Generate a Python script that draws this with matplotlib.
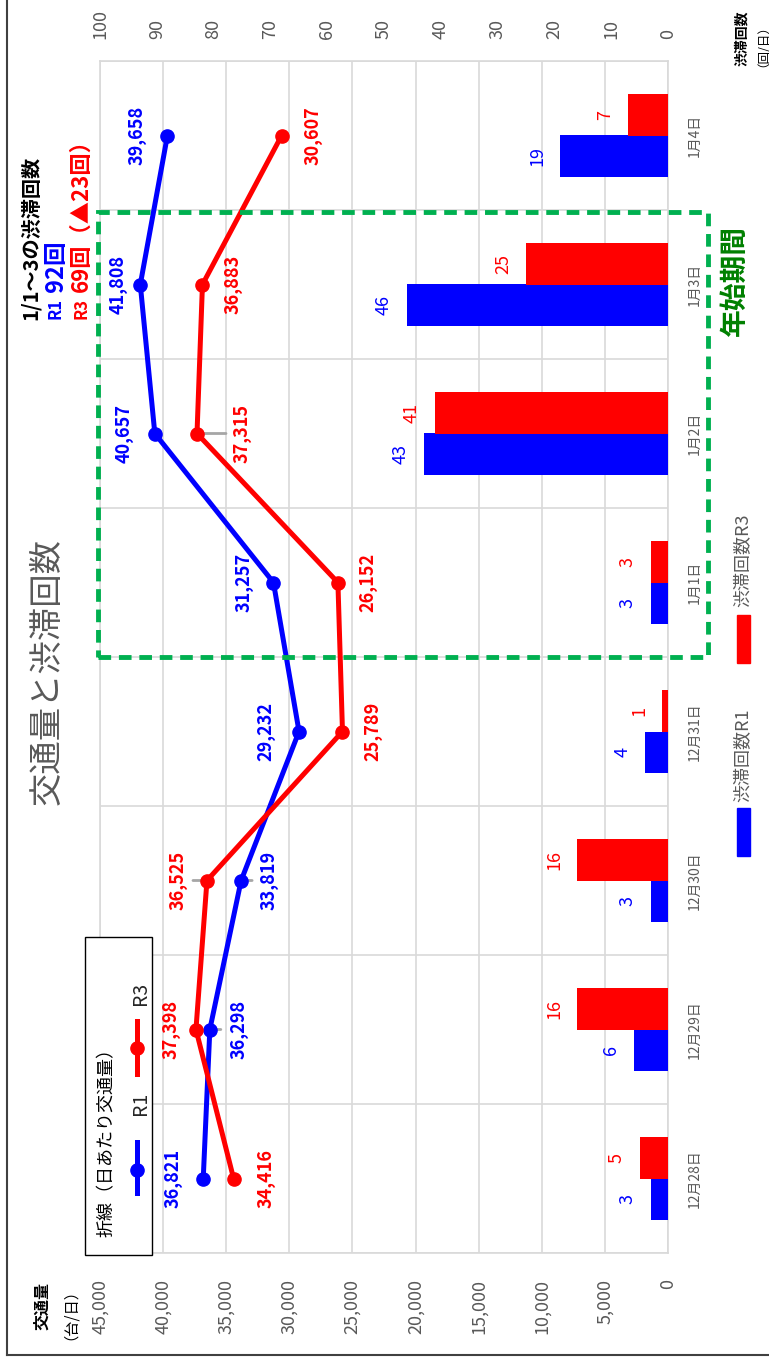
import matplotlib
matplotlib.use("Agg")
import matplotlib.pyplot as plt
import numpy as np
from matplotlib.lines import Line2D
from matplotlib.patches import Rectangle
from matplotlib.ticker import FuncFormatter, MultipleLocator

plt.rcParams["font.family"] = ["Noto Sans CJK JP", "DejaVu Sans"]

# data
dates = ["12月28日", "12月29日", "12月30日", "12月31日", "1月1日", "1月2日", "1月3日", "1月4日"]
traffic_r1 = [36821, 36298, 33819, 29232, 31257, 40657, 41808, 39658]
traffic_r3 = [34416, 37398, 36525, 25789, 26152, 37315, 36883, 30607]
jam_r1 = [3, 6, 3, 4, 3, 43, 46, 19]
jam_r3 = [5, 16, 16, 1, 3, 41, 25, 7]

BLUE = "#0000ff"
RED = "#ff0000"
GREEN = "#00b050"
DKGREEN = "#008000"
GRAY = "#595959"
GRID = "#d9d9d9"

W, H = 769, 1363


def fx(px):
    return px / W


def fy(py):
    return 1 - py / H


fig = plt.figure(figsize=(W / 100, H / 100), dpi=100)
pos = [fx(100), fy(1253), fx(668) - fx(100), fy(61) - fy(1253)]
y = np.arange(len(dates))

# grid / traffic axis (chart is turned 90 degrees: values grow to the left)
axg = fig.add_axes(pos, zorder=0)
axg.set_xlim(45000, 0)
axg.set_ylim(-0.5, len(dates) - 0.5)
axg.xaxis.set_major_locator(MultipleLocator(5000))
axg.xaxis.set_major_formatter(FuncFormatter(lambda v, p: f"{v:,.0f}"))
axg.set_yticks(y)
axg.set_yticklabels(dates)
axg.set_yticks(np.arange(-0.5, len(dates)), minor=True)
axg.yaxis.tick_right()
axg.tick_params(axis="x", labelrotation=90, length=0, pad=19, labelsize=13, labelcolor=GRAY)
axg.tick_params(axis="y", which="both", length=0)
axg.tick_params(axis="y", which="major", labelrotation=90, pad=14, labelsize=10, labelcolor=GRAY)
for lbl in axg.get_yticklabels():
    lbl.set_va("center")
axg.grid(axis="x", color=GRID, lw=1.2)
axg.grid(axis="y", which="minor", color=GRID, lw=1.2)
for s in axg.spines.values():
    s.set_color(GRID)
    s.set_linewidth(1.2)

# bars on the congestion axis
axb = axg.twiny()
axb.set_xlim(100, 0)
axb.xaxis.set_major_locator(MultipleLocator(10))
axb.tick_params(axis="x", labelrotation=90, length=0, pad=16, labelsize=13, labelcolor=GRAY)
for s in axb.spines.values():
    s.set_visible(False)
bar_h = 0.28
b1 = axb.barh(y - bar_h / 2, jam_r1, height=bar_h, color=BLUE)
b3 = axb.barh(y + bar_h / 2, jam_r3, height=bar_h, color=RED)
for bars, vals, c in [(b1, jam_r1, BLUE), (b3, jam_r3, RED)]:
    for rect, v in zip(bars, vals):
        axb.annotate(str(v), xy=(v, rect.get_y() + rect.get_height() / 2),
                     xytext=(-23, 0), textcoords="offset pixels", rotation=90,
                     ha="center", va="center", color=c, fontsize=13)

# lines on top
axl = fig.add_axes(pos, sharex=axg, sharey=axg, zorder=2)
axl.patch.set_visible(False)
axl.axis("off")

leaders = [(traffic_r1, 1, 11), (traffic_r3, 2, -14), (traffic_r1, 2, 11), (traffic_r3, 5, 29)]
for vals, i, d in leaders:
    axl.annotate("", xy=(vals[i], i), xytext=(d, 0), textcoords="offset pixels",
                 arrowprops=dict(arrowstyle="-", color="#a6a6a6", lw=2, shrinkA=0, shrinkB=0),
                 zorder=1)

axl.plot(traffic_r1, y, color=BLUE, lw=3.6, marker="o", ms=9.5, zorder=3)
axl.plot(traffic_r3, y, color=RED, lw=3.6, marker="o", ms=9.5, zorder=3)

r1_off = [-30, 29, 28, -33, -29, -31, -22, -30]
r3_off = [32, -25, -29, 30, 30, 45, 31, 31]
for vals, offs, c in [(traffic_r1, r1_off, BLUE), (traffic_r3, r3_off, RED)]:
    for i, (v, d) in enumerate(zip(vals, offs)):
        axl.annotate(f"{v:,}", xy=(v, i), xytext=(d, 0), textcoords="offset pixels",
                     rotation=90, ha="center", va="center", color=c,
                     fontsize=13, fontweight="bold")

# new-year period box
fig.add_artist(Rectangle((fx(98), fy(657)), fx(708) - fx(98), fy(212) - fy(657),
                         transform=fig.transFigure, fill=False, edgecolor=GREEN,
                         lw=3.5, linestyle=(0, (2.6, 1.6)), zorder=5))
fig.text(fx(735), fy(280), "年始期間", rotation=90, ha="center", va="center",
         fontsize=20, fontweight="bold", color=DKGREEN, zorder=6)

# title and notes
fig.text(fx(47), fy(672), "交通量と渋滞回数", rotation=90, ha="center", va="center",
         fontsize=24, color=GRAY)
fig.text(fx(30), fy(320), "1/1～3の渋滞回数", rotation=90, ha="center", va="bottom",
         fontsize=14.5, fontweight="bold", color="black")
fig.text(fx(56), fy(319), "R1", rotation=90, ha="center", va="bottom",
         fontsize=12, fontweight="bold", color=BLUE)
fig.text(fx(56), fy(292), "92回", rotation=90, ha="center", va="bottom",
         fontsize=17, fontweight="bold", color=BLUE)
fig.text(fx(81), fy(319), "R3", rotation=90, ha="center", va="bottom",
         fontsize=12, fontweight="bold", color=RED)
fig.text(fx(81), fy(292), "69回（▲23回）", rotation=90, ha="center", va="bottom",
         fontsize=16, fontweight="bold", color=RED)

# axis titles
fig.text(fx(42), fy(1306), "交通量", rotation=90, ha="center", va="center",
         fontsize=11.5, fontweight="bold", color="black")
fig.text(fx(62), fy(1306), "（台/日）", rotation=90, ha="center", va="center",
         fontsize=11, color="black")
fig.text(fx(742), fy(38), "渋滞回数", rotation=90, ha="center", va="center",
         fontsize=10, fontweight="bold", color="black")
fig.text(fx(757), fy(40), "（回/日）", rotation=90, ha="center", va="center",
         fontsize=9, color="black")

# line legend box
fig.add_artist(Rectangle((fx(85), fy(1255)), fx(152) - fx(85), fy(937) - fy(1255),
                         transform=fig.transFigure, facecolor="white", edgecolor="black",
                         lw=1, zorder=5))
fig.text(fx(107), fy(1237), "折線（日あたり交通量）", rotation=90, ha="center", va="bottom",
         fontsize=13, color="black", zorder=6)
for c, y0, y1, ym, lab_y, lab in [(BLUE, 1193, 1142, 1170, 1115, "R1"),
                                  (RED, 1074, 1021, 1048, 1005, "R3")]:
    fig.add_artist(Line2D([fx(137), fx(137)], [fy(y0), fy(y1)], transform=fig.transFigure,
                          color=c, lw=3.6, zorder=6))
    fig.add_artist(Line2D([fx(137)], [fy(ym)], transform=fig.transFigure, color=c,
                          marker="o", ms=9.5, zorder=6))
    fig.text(fx(140), fy(lab_y), lab, rotation=90, ha="center", va="bottom",
             fontsize=14, color="#262626", zorder=6)

# bar legend
for c, sq0, sq1, txt_y, lab in [(BLUE, 808, 856, 802, "渋滞回数R1"),
                                (RED, 615, 663, 607, "渋滞回数R3")]:
    fig.add_artist(Rectangle((fx(737), fy(sq1)), fx(750) - fx(737), fy(sq0) - fy(sq1),
                             transform=fig.transFigure, color=c, zorder=5))
    fig.text(fx(743), fy(txt_y), lab, rotation=90, ha="center", va="bottom",
             fontsize=13, color=GRAY)

# outer frame
fig.add_artist(Line2D([fx(7), fx(7)], [fy(0), fy(1355)], transform=fig.transFigure,
                      color="#404040", lw=1.5))
fig.add_artist(Line2D([fx(7), fx(769)], [fy(1355), fy(1355)], transform=fig.transFigure,
                      color="#404040", lw=1.5))

fig.savefig("out.png", dpi=100)
